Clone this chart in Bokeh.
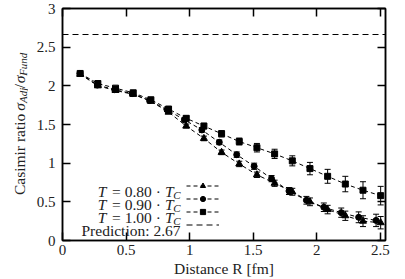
import math
from bokeh.plotting import figure
from bokeh.layouts import row
from bokeh.core.properties import value
from bokeh.models import (ColumnDataSource, Whisker, TeeHead, Label, Legend, LegendItem,
                          LinearAxis, FixedTicker, CustomJSTickFormatter, Range1d)
from bokeh.embed import file_html
from bokeh.resources import INLINE

# ---------------- data ----------------
r_080 = [0.139, 0.278, 0.417, 0.556, 0.695, 0.834, 0.973, 1.112, 1.251, 1.390,
         1.529, 1.668, 1.807, 1.946, 2.085, 2.224, 2.363, 2.502]
ratio_080 = [2.15, 2.00, 1.94, 1.89, 1.80, 1.66, 1.48, 1.32, 1.14, 0.99,
             0.85, 0.74, 0.63, 0.50, 0.40, 0.32, 0.25, 0.23]
err_080 = [0.02, 0.02, 0.02, 0.02, 0.02, 0.02, 0.025, 0.03, 0.03, 0.035,
           0.035, 0.04, 0.045, 0.05, 0.055, 0.06, 0.07, 0.08]

r_090 = [0.137, 0.274, 0.411, 0.548, 0.685, 0.822, 0.959, 1.096, 1.233, 1.370,
         1.507, 1.644, 1.781, 1.918, 2.055, 2.192, 2.329, 2.466]
ratio_090 = [2.16, 2.01, 1.95, 1.90, 1.81, 1.69, 1.56, 1.43, 1.27, 1.11,
             0.96, 0.80, 0.64, 0.52, 0.43, 0.36, 0.30, 0.26]
err_090 = [0.02, 0.02, 0.02, 0.02, 0.02, 0.02, 0.025, 0.03, 0.03, 0.035,
           0.04, 0.04, 0.045, 0.05, 0.055, 0.06, 0.07, 0.08]

r_100 = [0.139, 0.278, 0.417, 0.556, 0.695, 0.834, 0.973, 1.112, 1.251, 1.390,
         1.529, 1.668, 1.807, 1.946, 2.085, 2.224, 2.363, 2.502]
ratio_100 = [2.16, 2.03, 1.97, 1.91, 1.82, 1.70, 1.58, 1.48, 1.38, 1.28,
             1.20, 1.12, 1.03, 0.93, 0.83, 0.73, 0.65, 0.58]
err_100 = [0.02, 0.02, 0.02, 0.02, 0.02, 0.025, 0.03, 0.035, 0.04, 0.045,
           0.055, 0.06, 0.065, 0.08, 0.09, 0.10, 0.11, 0.12]

prediction = 2.67

x_ticks = [0, 0.5, 1, 1.5, 2, 2.5]
y_ticks = [0, 0.5, 1, 1.5, 2, 2.5, 3]

legend_temps = ["0.80", "0.90", "1.00"]
legend_pred = "Prediction: 2.67"
x_label = "Distance R [fm]"
y_label_parts = ["Casimir ratio", "\u03c3", "Adj", "/", "\u03c3", "Fund"]

FONT = "Liberation Serif"
FS = "15.5px"
FS_TICK = "15px"
FS_SUB = "11px"
TXT = "#222222"
SIDE_W = 28

# ---------------- main plot ----------------
p = figure(width=405 - SIDE_W, height=279, output_backend="svg", toolbar_location=None,
           x_range=Range1d(0, 2.54), y_range=Range1d(0, 3),
           min_border_left=62 - SIDE_W, min_border_right=20, min_border_top=8,
           min_border_bottom=5)
p.grid.visible = False
p.background_fill_color = "white"
p.border_fill_color = "white"
p.outline_line_color = "black"
p.outline_line_width = 1.5

fmt = CustomJSTickFormatter(code="return String(tick);")
for ax, ticks in ((p.xaxis[0], x_ticks), (p.yaxis[0], y_ticks)):
    ax.ticker = FixedTicker(ticks=ticks)
    ax.formatter = fmt
    ax.major_tick_in = 8
    ax.major_tick_out = 0
    ax.minor_tick_in = 0
    ax.minor_tick_out = 0
    ax.major_tick_line_width = 1.5
    ax.axis_line_width = 1.5
    ax.major_label_text_font = FONT
    ax.major_label_text_font_size = FS_TICK
    ax.major_label_text_color = TXT
p.xaxis.major_label_standoff = 4
p.yaxis.major_label_standoff = 7
p.xaxis.axis_label = x_label
p.xaxis.axis_label_text_font = FONT
p.xaxis.axis_label_text_font_size = FS
p.xaxis.axis_label_text_font_style = "normal"
p.xaxis.axis_label_text_color = TXT
p.xaxis.axis_label_standoff = 2

blank = CustomJSTickFormatter(code="return '';")
for loc, ticks in (("above", x_ticks), ("right", y_ticks)):
    ax = LinearAxis(ticker=FixedTicker(ticks=ticks), formatter=blank,
                    major_tick_in=8, major_tick_out=0, minor_tick_in=0, minor_tick_out=0,
                    major_tick_line_width=1.5, axis_line_width=1.5,
                    major_label_text_font_size="0px", major_label_standoff=0)
    p.add_layout(ax, loc)

series = [
    (r_080, ratio_080, err_080, "triangle", 7),
    (r_090, ratio_090, err_090, "circle", 6),
    (r_100, ratio_100, err_100, "square", 6),
]
items = []
for (rr, vv, ee, marker, size), temp in zip(series, legend_temps):
    src = ColumnDataSource(dict(x=rr, y=vv,
                                lo=[v - e for v, e in zip(vv, ee)],
                                hi=[v + e for v, e in zip(vv, ee)]))
    ln = p.line("x", "y", source=src, line_color="black", line_width=1, line_dash="4 3")
    sc = p.scatter("x", "y", source=src, marker=marker, size=size,
                   fill_color="black", line_color="black")
    wh = Whisker(source=src, base="x", lower="lo", upper="hi", dimension="height",
                 line_color="black", line_width=1,
                 lower_head=TeeHead(size=6, line_width=1, line_color="black"),
                 upper_head=TeeHead(size=6, line_width=1, line_color="black"))
    p.add_layout(wh)
    items.append(LegendItem(label=" ", renderers=[ln, sc]))

pr = p.hspan(y=[prediction], line_color="black", line_width=1, line_dash="6 4")
items.append(LegendItem(label=" ", renderers=[pr]))

legend = Legend(items=items, location=(124, 9), padding=0, margin=0, spacing=0,
                glyph_width=33, glyph_height=13, label_height=13, label_standoff=0,
                label_text_font_size="8px", border_line_color=None,
                background_fill_alpha=0)
p.add_layout(legend, "center")


def lab(fig, text, x, y, size=FS, style="normal", align="right"):
    fig.add_layout(Label(x=x, y=y, x_units="screen", y_units="screen", text=text,
                         text_font=FONT, text_font_size=size, text_font_style=style,
                         text_align=align, text_baseline="alphabetic",
                         text_color=TXT))


# legend texts (right aligned, gnuplot style)
x_end = 118
row_centers = [54.5, 41.5, 28.5, 15.5]
for temp, yc in zip(legend_temps, row_centers[:3]):
    base = yc - 5
    lab(p, "C", x_end, base - 3.5, size=FS_SUB, style="italic")
    t2_right = x_end - 7.0
    lab(p, "T", t2_right, base, style="italic")
    mid_right = t2_right - 8.6 - 4
    lab(p, "= " + temp + " \u00b7", mid_right, base)
    lab(p, "T", mid_right - 47.5 - 7, base, style="italic")
lab(p, legend_pred, x_end, row_centers[3] - 5)

# ---------------- narrow strip holding the y-axis title ----------------
side = figure(width=SIDE_W, height=279, output_backend="svg", toolbar_location=None,
              x_range=Range1d(0, SIDE_W), y_range=Range1d(0, 279),
              x_axis_type=None, y_axis_type=None,
              min_border_left=0, min_border_right=0, min_border_top=0, min_border_bottom=0)
side.grid.visible = False
side.outline_line_color = None
side.border_fill_color = "white"
side.background_fill_color = "white"

# "Casimir ratio" ends (right-aligned) just before the junction; the math part
# starts (left-aligned) at the junction, so the long word cannot overlap it.
junction = 156
anchors = [junction - 3.5, junction, junction + 9.3, junction + 27.0,
           junction + 33.0, junction + 42.0]
aligns = ["right", "left", "left", "left", "left", "left"]
sizes = [FS, FS, FS_SUB, FS, FS, FS_SUB]
styles = ["normal", "italic", "italic", "normal", "italic", "italic"]
xs = [19, 19, 22.5, 19, 19, 22.5]
tsrc = ColumnDataSource(dict(x=xs, y=anchors, text=y_label_parts, size=sizes,
                             style=styles, align=aligns))
side.text("x", "y", text="text", source=tsrc, angle=math.pi / 2,
          text_font=value(FONT), text_font_size="size", text_font_style="style",
          text_align="align", text_baseline="alphabetic", text_color=TXT)

layout = row(side, p, spacing=0)
open("out.html", "w").write(file_html(layout, INLINE))
